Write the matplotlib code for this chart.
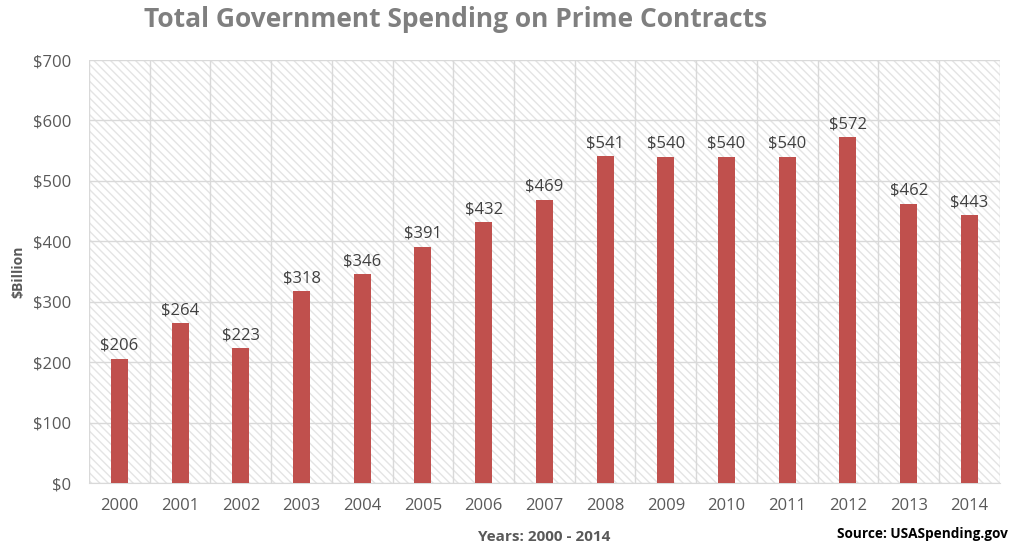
import matplotlib
matplotlib.use("Agg")
import matplotlib.pyplot as plt
from matplotlib.patches import Rectangle
from matplotlib.ticker import MultipleLocator, FuncFormatter

years = ["2000", "2001", "2002", "2003", "2004", "2005", "2006", "2007",
         "2008", "2009", "2010", "2011", "2012", "2013", "2014"]
spending = [206, 264, 223, 318, 346, 391, 432, 469, 541, 540, 540, 540, 572, 462, 443]

plt.rcParams["font.family"] = ["Open Sans", "DejaVu Sans"]
plt.rcParams["hatch.linewidth"] = 1.0

BAR = "#c0504d"
GRID = "#d9d9d9"
TXT = "#595959"

fig = plt.figure(figsize=(10.13, 5.5), dpi=100)
ax = fig.add_axes([0.0879, 0.1218, 0.899, 0.7691])

# Diagonal-striped plot background
ax.add_patch(Rectangle((0, 0), 1, 1, transform=ax.transAxes, facecolor="white",
                       edgecolor="#e4e4e4", hatch="\\\\\\\\", linewidth=0, zorder=0))

x = list(range(len(years)))
ax.bar(x, spending, width=0.28, color=BAR, zorder=3)

for xi, v in zip(x, spending):
    ax.text(xi, v + 8, f"${v}", ha="center", va="bottom", fontsize=12,
            color="#404040", zorder=4)

ax.set_xlim(-0.5, len(years) - 0.5)
ax.set_ylim(0, 700)
ax.yaxis.set_major_locator(MultipleLocator(100))
ax.yaxis.set_major_formatter(FuncFormatter(lambda v, p: f"${int(v)}"))
ax.set_xticks(x)
ax.set_xticklabels(years)

# Gridlines: horizontal at each $100, vertical between categories
ax.set_xticks([i - 0.5 for i in range(len(years) + 1)], minor=True)
ax.grid(axis="y", which="major", color=GRID, linewidth=1, zorder=1)
ax.grid(axis="x", which="minor", color=GRID, linewidth=1, zorder=1)
ax.tick_params(axis="both", which="both", length=0)
ax.tick_params(axis="x", which="major", pad=11, labelsize=12, labelcolor=TXT)
ax.tick_params(axis="y", which="major", pad=13, labelsize=12, labelcolor=TXT)

for s in ("top", "right", "left"):
    ax.spines[s].set_visible(False)
ax.spines["bottom"].set_color(GRID)
ax.set_axisbelow(True)

ax.set_ylabel("$Billion", fontsize=10, fontweight="bold", color=TXT)
ax.yaxis.set_label_coords(-0.07, 0.5)
ax.set_xlabel("Years: 2000 - 2014", fontsize=11, fontweight="bold", color=TXT)
ax.xaxis.set_label_coords(0.5, -0.112)

fig.text(0.45, 0.965, "Total Government Spending on Prime Contracts", ha="center",
         va="center", fontsize=19, fontweight="bold", color="#7f7f7f")
fig.text(0.995, 0.017, "Source: USASpending.gov", ha="right", va="bottom",
         fontsize=9.8, fontweight="bold", color="black")

fig.savefig("out.png", dpi=100, facecolor="white")
